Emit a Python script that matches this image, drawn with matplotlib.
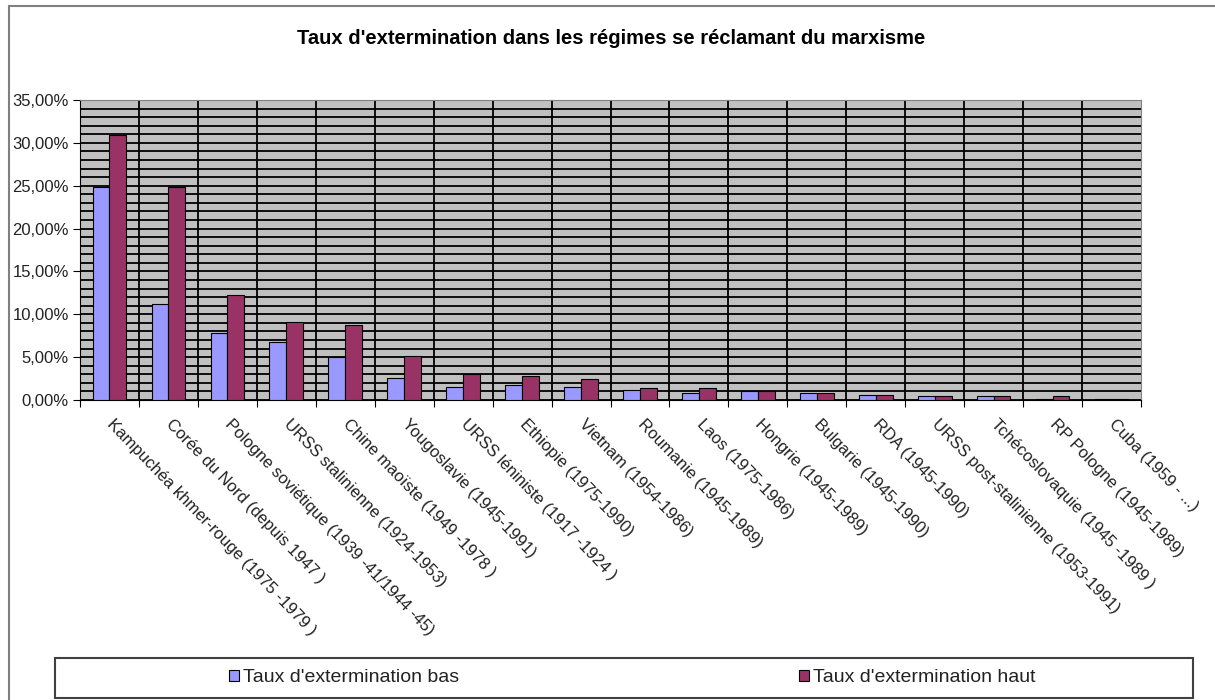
import matplotlib
matplotlib.use("Agg")
import matplotlib.pyplot as plt
import numpy as np
from matplotlib.patches import Rectangle
from matplotlib.ticker import MultipleLocator, FuncFormatter

plt.rcParams['font.family'] = ['Liberation Sans', 'DejaVu Sans']

title = "Taux d'extermination dans les régimes se réclamant du marxisme"
categories = [
    "Kampuchéa khmer-rouge (1975 -1979 )",
    "Corée du Nord (depuis 1947 )",
    "Pologne soviétique (1939 -41/1944 -45)",
    "URSS stalinienne (1924-1953)",
    "Chine maoïste (1949 -1978 )",
    "Yougoslavie (1945-1991)",
    "URSS léniniste (1917 -1924 )",
    "Ethiopie (1975-1990)",
    "Vietnam (1954-1986)",
    "Roumanie (1945-1989)",
    "Laos (1975-1986)",
    "Hongrie (1945-1989)",
    "Bulgarie (1945-1990)",
    "RDA (1945-1990)",
    "URSS post-stalinienne (1953-1991)",
    "Tchécoslovaquie (1945 -1989 )",
    "RP Pologne (1945-1989)",
    "Cuba (1959 - ...)",
]
taux_bas = [24.8, 11.2, 7.8, 6.8, 5.0, 2.6, 1.5, 1.7, 1.5, 1.2, 0.85, 1.1, 0.8, 0.6, 0.45, 0.45, 0.15, 0.1]
taux_haut = [30.9, 24.9, 12.3, 9.1, 8.7, 5.1, 3.0, 2.8, 2.5, 1.35, 1.35, 1.1, 0.8, 0.6, 0.45, 0.45, 0.45, 0.1]
label_bas = "Taux d'extermination bas"
label_haut = "Taux d'extermination haut"

W, H = 1215, 700
fig = plt.figure(figsize=(W / 100, H / 100), dpi=100)

# chart area border
fig.patches.append(Rectangle((9 / W, -0.01), 1.05, (H - 6) / H + 0.01, transform=fig.transFigure,
                             fill=False, edgecolor='#808080', linewidth=1.5))

ax = fig.add_axes([80 / W, (H - 400) / H, (1141 - 80) / W, 300 / H])
ax.set_facecolor('#c0c0c0')
n = len(categories)
x = np.arange(n)
bw = 0.286
b1 = ax.bar(x - bw / 2, taux_bas, bw, color='#9999ff', edgecolor='black', linewidth=0.8, label=label_bas, zorder=3)
b2 = ax.bar(x + bw / 2, taux_haut, bw, color='#993366', edgecolor='black', linewidth=0.8, label=label_haut, zorder=3)

ax.set_xlim(-0.5, n - 0.5)
ax.set_ylim(0, 35)
ax.yaxis.set_major_locator(MultipleLocator(5))
ax.yaxis.set_minor_locator(MultipleLocator(1))
ax.yaxis.set_major_formatter(FuncFormatter(lambda v, p: f"{v:.2f}".replace('.', ',') + "%"))
ax.grid(axis='y', which='both', color='black', linewidth=1.3, zorder=1)
for b in np.arange(0.5, n - 0.5, 1):
    ax.axvline(b, color='black', linewidth=1.3, zorder=1)

ax.set_xticks(np.arange(-0.5, n, 1))
ax.set_xticklabels([])
ax.tick_params(axis='x', length=5, direction='out', color='black')
ax.tick_params(axis='y', which='major', length=5, direction='out', labelsize=12, color='black', pad=3,
               labelcolor='#222222')
ax.tick_params(axis='y', which='minor', length=0)
for s in ['top', 'right']:
    ax.spines[s].set_color('#808080')
for s in ['left', 'bottom']:
    ax.spines[s].set_color('black')

for i, c in enumerate(categories):
    ax.annotate(c, xy=(i, 0), xycoords='data', xytext=(0, -16), textcoords='offset points',
                rotation=-46, rotation_mode='anchor', ha='left', va='center', fontsize=12, color='#222222')

fig.text(611 / W, 1 - 38 / H, title, ha='center', va='center', fontsize=14.5, fontweight='bold')

# legend frame
fig.patches.append(Rectangle((55 / W, 2 / H), (1193 - 55) / W, (698 - 658) / H, transform=fig.transFigure,
                             fill=False, edgecolor='#404040', linewidth=1.5))
fig.legend([b1], [label_bas], loc='center left', bbox_to_anchor=(221 / W, 1 - 678 / H), frameon=False,
           fontsize=14, handlelength=0.55, handleheight=0.55, handletextpad=0.2, borderaxespad=0,
           labelcolor='#222222')
fig.legend([b2], [label_haut], loc='center left', bbox_to_anchor=(791 / W, 1 - 678 / H), frameon=False,
           fontsize=14, handlelength=0.55, handleheight=0.55, handletextpad=0.2, borderaxespad=0,
           labelcolor='#222222')

fig.savefig('out.png', dpi=100)
